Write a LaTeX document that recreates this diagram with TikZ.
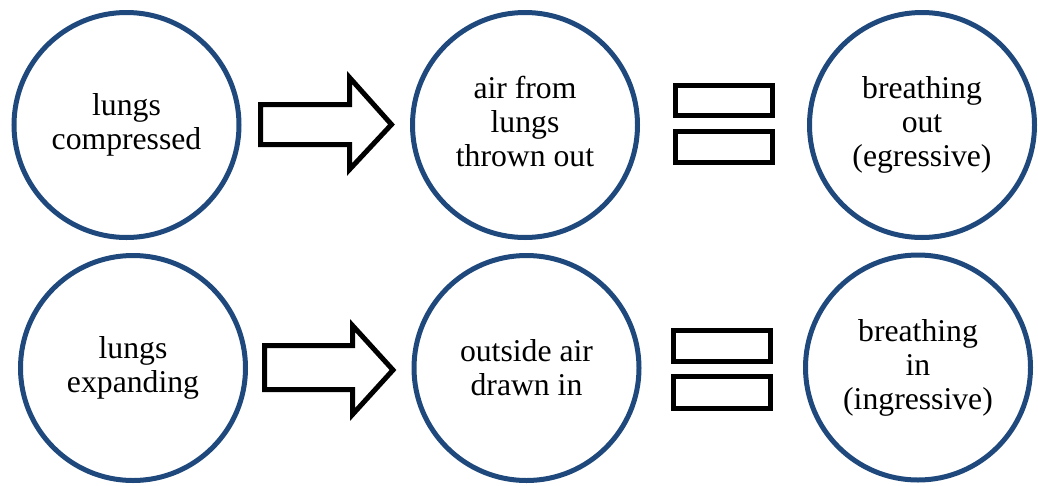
\documentclass[tikz,border=0pt]{standalone}
\usepackage{fontspec}
\setmainfont{Liberation Serif}
\definecolor{ringblue}{RGB}{31,73,125}
\tikzset{
  ring/.style={circle, draw=ringblue, line width=5pt, minimum size=225pt,
    inner sep=0pt, align=center, font=\fontsize{31.7}{34}\selectfont},
  blockarrow/.style={draw=black, line width=5pt, fill=white, line join=miter},
  eqbar/.style={rectangle, draw=black, line width=5pt, inner sep=0pt},
}
\begin{document}
\begin{tikzpicture}[x=1pt, y=-1pt]
  \useasboundingbox (0,0) rectangle (1038,485);

  % upper row: breathing out
  \node[ring] (comp)  at (126.5,125) {lungs\\compressed};
  \node[ring] (out)   at (525,125)   {air from\\lungs\\thrown out\vphantom{g}};
  \node[ring] (egr)   at (922,125)   {breathing\\out\\(egressive)};

  % lower row: breathing in
  \node[ring] (expd)  at (133,368)   {lungs\\expanding};
  \node[ring] (inair) at (526.5,368) {outside air\\drawn in};
  \node[ring] (ingr)  at (918,367.5) {breathing\\in\\(ingressive)};

  % hollow block arrows
  \draw[blockarrow] (260.5,104.5) -- (349.5,104.5) -- (349.5,77.5) -- (391.5,124.5)
    -- (349.5,169.5) -- (349.5,144.5) -- (260.5,144.5) -- cycle;
  \draw[blockarrow] (264.5,345.5) -- (352.5,345.5) -- (352.5,325.5) -- (393,370)
    -- (352.5,414.5) -- (352.5,389.5) -- (264.5,389.5) -- cycle;

  % equals signs made of two hollow bars
  \node[eqbar, minimum width=97pt, minimum height=30pt] (eqa1) at (724,100.5) {};
  \node[eqbar, minimum width=97pt, minimum height=31pt] (eqa2) at (724,147) {};
  \node[eqbar, minimum width=97pt, minimum height=31pt] (eqb1) at (722,346) {};
  \node[eqbar, minimum width=97pt, minimum height=32pt] (eqb2) at (722,392.5) {};
\end{tikzpicture}
\end{document}
